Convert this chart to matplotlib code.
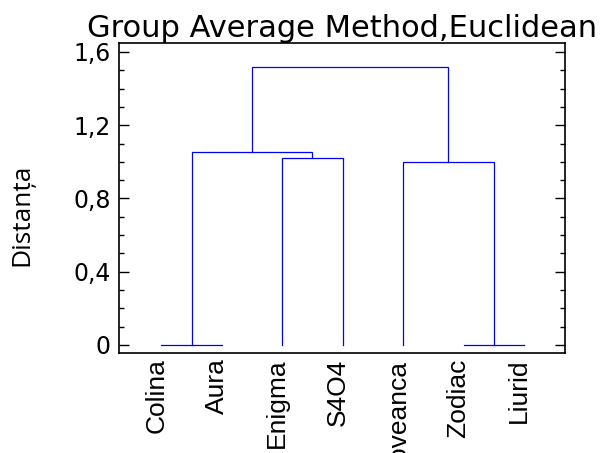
import matplotlib
matplotlib.use("Agg")
import matplotlib.pyplot as plt
import matplotlib.transforms as mtransforms
from matplotlib.ticker import MultipleLocator, FuncFormatter

# leaves in dendrogram order
labels = ["Colina", "Aura", "Enigma", "S4O4", "Roveanca", "Zodiac", "Liurid"]
# merges: (child a, child b, distance); clusters after the leaves get ids 7, 8, ...
merge_a = [0, 5, 2, 4, 7, 10]
merge_b = [1, 6, 3, 8, 9, 11]
merge_h = [0.0, 0.0, 1.021, 0.998, 1.052, 1.517]

yticks = [0, 0.4, 0.8, 1.2, 1.6]


def fmt(v, pos):
    if abs(v) < 1e-9:
        return "0"
    return "{:.1f}".format(v).replace(".", ",")


fig = plt.figure(figsize=(6.06, 4.53), dpi=100)
ax = fig.add_axes([0.1964, 0.2208, 0.736, 0.6843])

# node positions / heights
xs = [i + 1 for i in range(len(labels))]
hs = [0.0] * len(labels)
for a, b, h in zip(merge_a, merge_b, merge_h):
    xa, xb = xs[a], xs[b]
    ax.plot([xa, xa, xb, xb], [hs[a], h, h, hs[b]], color="#0000ff", lw=0.9,
            solid_joinstyle="miter")
    xs.append((xa + xb) / 2)
    hs.append(h)

ax.set_xlim(0.3, 7.68)
ax.set_ylim(-0.0437, 1.649)

ax.set_xticks(range(1, len(labels) + 1))
ax.set_xticklabels(labels, rotation=90, family="Liberation Sans", fontsize=19)
ax.tick_params(axis="x", length=0, pad=4)
shift = mtransforms.ScaledTranslation(-5 / 100, 0, fig.dpi_scale_trans)
for t in ax.get_xticklabels():
    t.set_transform(t.get_transform() + shift)

ax.set_yticks(yticks)
ax.yaxis.set_minor_locator(MultipleLocator(0.1))
ax.yaxis.set_major_formatter(FuncFormatter(fmt))
ax.tick_params(axis="y", which="major", direction="in", length=7, width=1,
               right=True, labelsize=17, pad=6)
ax.tick_params(axis="y", which="minor", direction="in", length=3.5, width=1,
               right=True)
for t in ax.get_yticklabels():
    t.set_family("DejaVu Sans")

for s in ax.spines.values():
    s.set_linewidth(1.2)

ax.set_ylabel("Distanța", family="Open Sans", fontsize=19)
ax.yaxis.set_label_coords(-0.19, 0.445)
ax.set_title("Group Average Method,Euclidean", family="DejaVu Sans",
             fontsize=22, pad=4)

fig.savefig("out.png", dpi=100)
